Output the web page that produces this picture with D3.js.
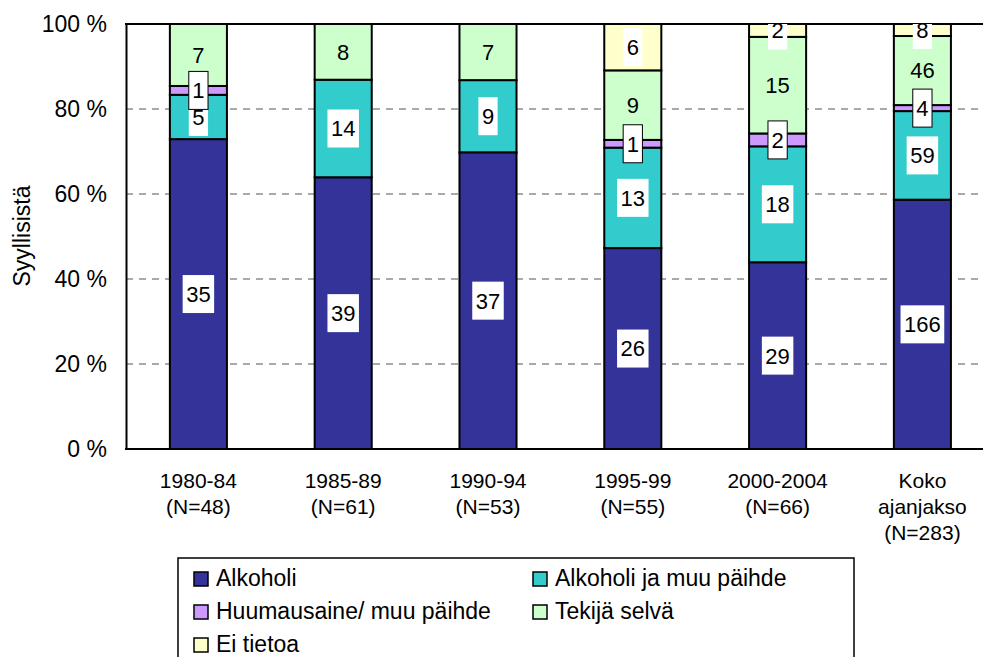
<!DOCTYPE html>
<html>
<head>
<meta charset="utf-8">
<script src="https://cdn.jsdelivr.net/npm/d3@7"></script>
<style>
  body { margin: 0; background: #fff; }
  svg { display: block; font-family: "Liberation Sans", Arial, sans-serif; }
</style>
</head>
<body>
<svg width="983" height="657"></svg>
<script>
// categories, one array of lines per bar
let categoryLabels = [
    ["1980-84", "(N=48)"],
    ["1985-89", "(N=61)"],
    ["1990-94", "(N=53)"],
    ["1995-99", "(N=55)"],
    ["2000-2004", "(N=66)"],
    ["Koko", "ajanjakso", "(N=283)"]
];
let categories = ["1980-84", "1985-89", "1990-94", "1995-99", "2000-2004", "Koko ajanjakso"];

// counts per series
let alkoholi      = [35, 39, 37, 26, 29, 166];
let alkoholiJaMuu = [5, 14, 9, 13, 18, 59];
let huumausaine   = [1, 0, 0, 1, 2, 4];
let tekijaSelva   = [7, 8, 7, 9, 15, 46];
let eiTietoa      = [0, 0, 0, 6, 2, 8];

let seriesNames = ["Alkoholi", "Alkoholi ja muu päihde", "Huumausaine/ muu päihde", "Tekijä selvä", "Ei tietoa"];
let seriesKeys = ["alk", "alkMuu", "huum", "selva", "ei"];
let seriesColors = ["#333399", "#33cccc", "#cc99ff", "#ccffcc", "#ffffcc"];
let yTicks = [0, 0.2, 0.4, 0.6, 0.8, 1];

let svg = d3.select("svg");

let plot = {left: 126, top: 24, bottom: 449, right: 126 + 6 * 144.8};

let rows = categories.map((c, i) => ({
    cat: c,
    alk: alkoholi[i],
    alkMuu: alkoholiJaMuu[i],
    huum: huumausaine[i],
    selva: tekijaSelva[i],
    ei: eiTietoa[i]
}));

let stacked = d3.stack()
    .keys(seriesKeys)
    .offset(d3.stackOffsetExpand)(rows);

let x = d3.scaleBand()
    .domain(categories)
    .range([plot.left, plot.right])
    .paddingInner(0.606)
    .paddingOuter(0.303);

let y = d3.scaleLinear()
    .domain([0, 1])
    .range([plot.bottom, plot.top]);

let color = d3.scaleOrdinal().domain(seriesKeys).range(seriesColors);

svg.append("defs").append("clipPath")
    .attr("id", "plotClip")
    .append("rect")
        .attr("x", plot.left)
        .attr("y", plot.top)
        .attr("width", plot.right - plot.left)
        .attr("height", plot.bottom - plot.top);

//gridlines
svg.append("g")
    .selectAll("line")
    .data(yTicks.filter(t => t > 0 && t < 1)).enter().append("line")
        .attr("x1", plot.left)
        .attr("x2", plot.right)
        .attr("y1", d => y(d))
        .attr("y2", d => y(d))
        .attr("stroke", "#555")
        .attr("stroke-width", 1)
        .attr("stroke-dasharray", "7,6");

//bars
let layers = svg.append("g")
    .selectAll("g")
    .data(stacked).enter().append("g")
        .attr("fill", d => color(d.key));

layers.selectAll("rect")
    .data(d => d.filter(s => s[1] - s[0] > 0)).enter().append("rect")
        .attr("x", d => x(d.data.cat))
        .attr("y", d => y(d[1]))
        .attr("width", x.bandwidth())
        .attr("height", d => y(d[0]) - y(d[1]))
        .attr("stroke", "#000")
        .attr("stroke-width", 2);

//plot frame
let yAxis = d3.axisLeft(y)
    .tickValues(yTicks)
    .tickSize(0)
    .tickPadding(19)
    .tickFormat(d => Math.round(d * 100) + " %");

let yAxisG = svg.append("g")
    .attr("transform", `translate(${plot.left},0)`)
    .call(yAxis);
yAxisG.select(".domain").attr("stroke", "#000").attr("stroke-width", 2);
yAxisG.selectAll("text")
    .attr("font-size", 23)
    .attr("fill", "#000")
    .attr("font-family", "Liberation Sans, Arial, sans-serif");

svg.append("line")
    .attr("x1", plot.left - 1).attr("x2", plot.right)
    .attr("y1", plot.bottom).attr("y2", plot.bottom)
    .attr("stroke", "#000").attr("stroke-width", 2);
svg.append("line")
    .attr("x1", plot.left - 1).attr("x2", plot.right)
    .attr("y1", plot.top).attr("y2", plot.top)
    .attr("stroke", "#000").attr("stroke-width", 2);

//data labels
let labelGroup = svg.append("g").attr("clip-path", "url(#plotClip)");
stacked.forEach(layer => {
    layer.forEach((seg, i) => {
        let value = rows[i][layer.key];
        if (!value) return;
        let cx = x(seg.data.cat) + x.bandwidth() / 2;
        let cy = (y(seg[0]) + y(seg[1])) / 2;
        let g = labelGroup.append("g");
        let t = g.append("text")
            .attr("x", cx)
            .attr("y", cy)
            .attr("dy", "0.36em")
            .attr("text-anchor", "middle")
            .attr("font-size", 22)
            .text(value);
        if (layer.key !== "selva") {
            let w = t.node().getComputedTextLength() + 7;
            g.insert("rect", "text")
                .attr("x", cx - w / 2)
                .attr("y", cy - 19)
                .attr("width", w)
                .attr("height", 38)
                .attr("fill", "#fff")
                .attr("stroke", layer.key === "huum" ? "#000" : "none")
                .attr("stroke-width", 1);
        }
    });
});

//category labels
svg.append("g")
    .selectAll("text")
    .data(categoryLabels).enter().append("text")
        .attr("text-anchor", "middle")
        .attr("font-size", 21)
        .each(function(lines, i) {
            let cx = x(categories[i]) + x.bandwidth() / 2;
            d3.select(this).selectAll("tspan")
                .data(lines).enter().append("tspan")
                    .attr("x", cx)
                    .attr("y", (d, j) => 488 + j * 26)
                    .text(d => d);
        });

//axis title
svg.append("text")
    .attr("transform", "translate(30,236) rotate(-90)")
    .attr("text-anchor", "middle")
    .attr("font-size", 23)
    .text("Syyllisistä");

//legend
let legend = svg.append("g");
legend.append("rect")
    .attr("x", 178).attr("y", 558)
    .attr("width", 676).attr("height", 140)
    .attr("fill", "#fff")
    .attr("stroke", "#000")
    .attr("stroke-width", 1.5);

let legendItems = legend.selectAll("g.item")
    .data(seriesNames).enter().append("g")
        .attr("class", "item")
        .attr("transform", (d, i) => `translate(${i % 2 === 0 ? 194 : 533},${586 + Math.floor(i / 2) * 33})`);

legendItems.append("rect")
    .attr("x", 0).attr("y", -14)
    .attr("width", 14).attr("height", 14)
    .attr("fill", (d, i) => seriesColors[i])
    .attr("stroke", "#000")
    .attr("stroke-width", 1.5);

legendItems.append("text")
    .attr("x", 22)
    .attr("y", 0)
    .attr("font-size", 23)
    .text(d => d);
</script>
</body>
</html>
